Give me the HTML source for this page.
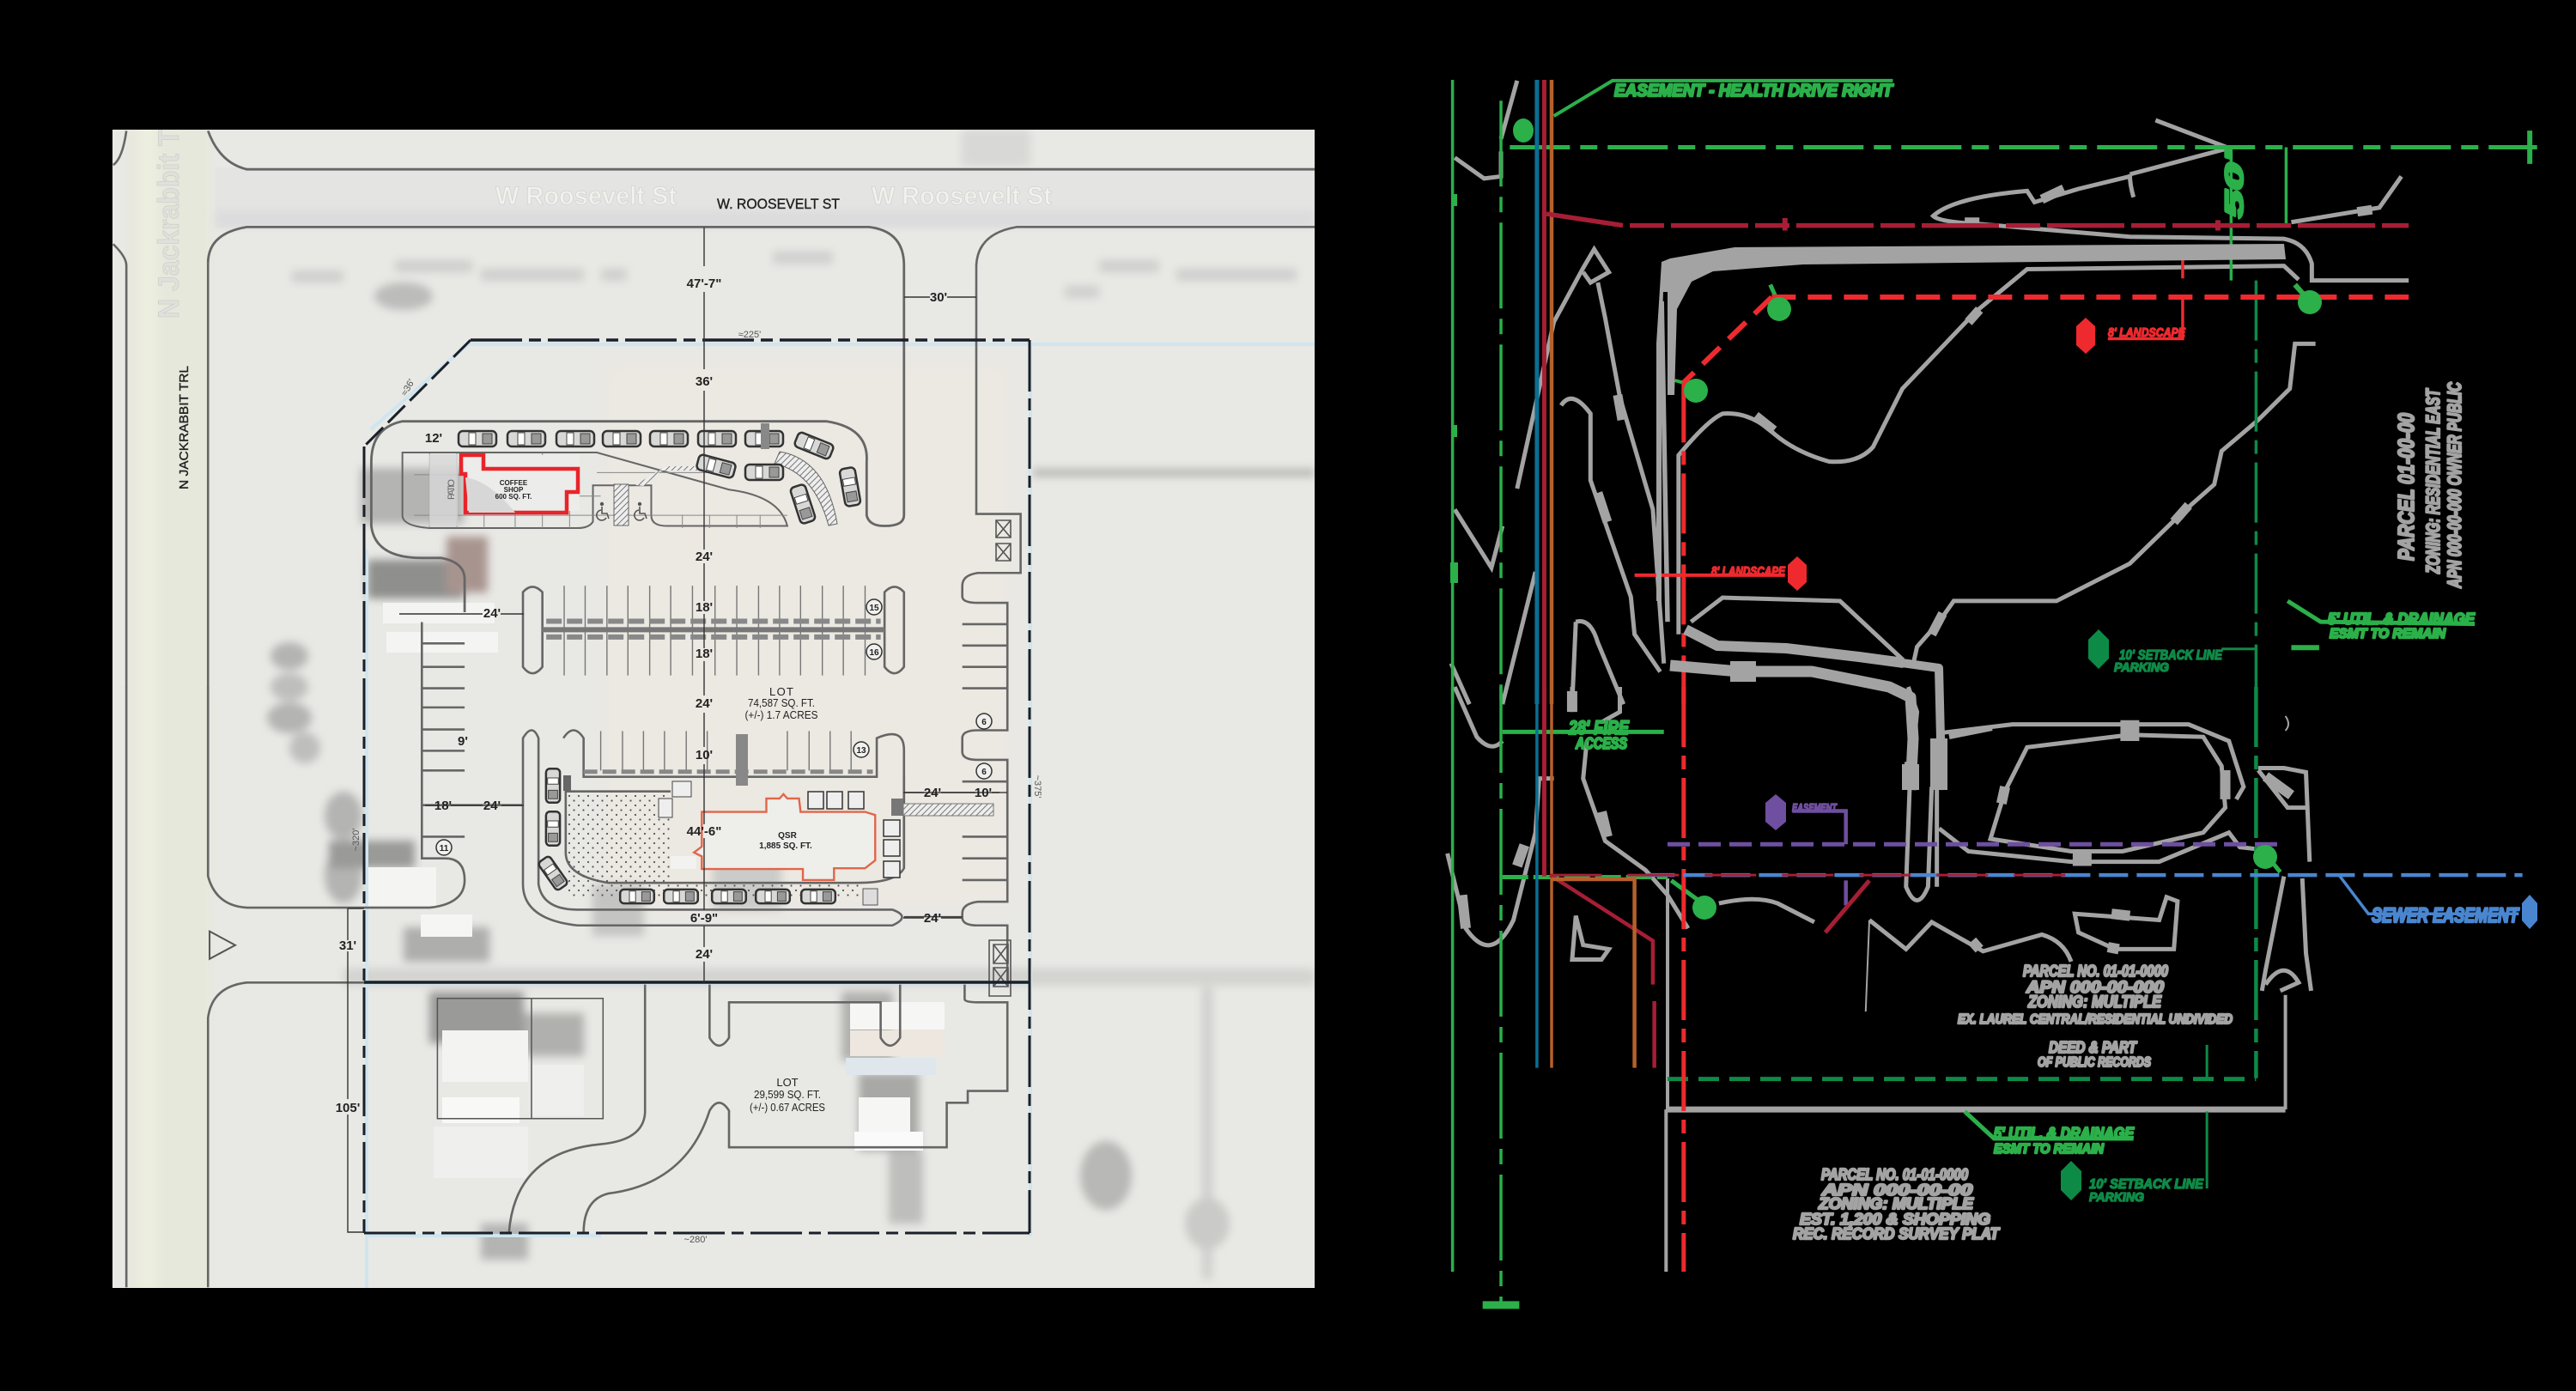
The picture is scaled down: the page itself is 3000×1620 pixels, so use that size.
<!DOCTYPE html>
<html><head><meta charset="utf-8"><style>
html,body{margin:0;padding:0;background:#000}
svg{display:block}
path,line,rect,polyline,polygon,circle,ellipse{vector-effect:non-scaling-stroke}
text{font-family:"Liberation Sans",sans-serif}
.d{font-size:15px;font-weight:bold;fill:#222;text-anchor:middle}
.s{font-size:11px;fill:#555;text-anchor:middle}
.g{font-size:13px;fill:#222;text-anchor:middle}
.ghost{font-weight:bold;fill:#f1f1ee;stroke:#d2d2d0;stroke-width:.8}
.b{font-weight:bold;font-style:italic;stroke-width:2.4;stroke-linejoin:round}
.m{stroke-width:1.5}
.gy{fill:#a3a3a3;stroke:#a3a3a3}
.gn{fill:#2bb04a;stroke:#2bb04a}
.dg{fill:#0e8a47;stroke:#0e8a47}
.rd{fill:#ee2a2e;stroke:#ee2a2e}
.cv path,.cv line,.cv rect,.cv polyline{fill:none}
</style></head><body>
<svg xmlns="http://www.w3.org/2000/svg" width="3000" height="1620" viewBox="0 0 3000 1620">
<defs>
<clipPath id="panel"><rect x="131" y="151" width="1400" height="1349"/></clipPath>
<filter id="bl" x="-30%" y="-30%" width="160%" height="160%"><feGaussianBlur stdDeviation="5"/></filter>
<filter id="bl2" x="-30%" y="-30%" width="160%" height="160%"><feGaussianBlur stdDeviation="12"/></filter>
<pattern id="dots" width="11" height="11" patternUnits="userSpaceOnUse"><circle cx="3" cy="3" r="1.1" fill="#555"/><circle cx="8.5" cy="8.5" r="1.1" fill="#555"/></pattern>
<pattern id="hat" width="5" height="5" patternUnits="userSpaceOnUse" patternTransform="rotate(45)"><rect width="5" height="5" fill="#eee"/><line x1="0" y1="0" x2="0" y2="5" stroke="#777" stroke-width="2"/></pattern>
<g id="car"><rect x="-22" y="-9" width="44" height="18" rx="5" fill="#d8d8d6" stroke="#333" stroke-width="2.5"/><rect x="-10" y="-7" width="8" height="14" fill="#fff" stroke="#444"/><rect x="6" y="-6" width="11" height="12" fill="#999" stroke="#444"/></g>
<g id="ada"><circle cx="0" cy="-9" r="2.2" fill="#555"/><path d="M0 -6V2H6L8 8M-1 -2A6 6 0 1 0 5 7" fill="none" stroke="#555" stroke-width="1.6"/></g>
</defs>
<rect width="3000" height="1620" fill="#000"/>

<!-- AERIAL -->
<g clip-path="url(#panel)">
<rect x="131" y="151" width="1400" height="1349" fill="#e8e8e5"/>
<rect x="250" y="195" width="1281" height="70" fill="#e4e4e3"/>
<rect x="250" y="245" width="1281" height="20" fill="#dcdcdc" filter="url(#bl)"/>
<rect x="150" y="140" width="95" height="1370" fill="#e7e8dc" filter="url(#bl)"/>
<rect x="160" y="140" width="24" height="1370" fill="#eceee0" filter="url(#bl)"/>
<rect x="700" y="420" width="480" height="640" fill="#ece8e2" filter="url(#bl2)"/>
<g filter="url(#bl)">
<rect x="1120" y="151" width="80" height="42" fill="#d8d8d6"/>
<rect x="1203" y="546" width="328" height="9" fill="#b5b5b3"/>
<rect x="400" y="1128" width="1131" height="20" fill="#d3d3d0"/>
<rect x="1400" y="1150" width="12" height="340" fill="#cfcfcc"/>
<ellipse cx="1288" cy="1369" rx="30" ry="40" fill="#b8b8b6"/>
<ellipse cx="1406" cy="1425" rx="26" ry="30" fill="#cacac8"/>
<ellipse cx="470" cy="345" rx="34" ry="16" fill="#bcbcba"/>
<ellipse cx="337" cy="764" rx="22" ry="16" fill="#b4b4b2"/>
<ellipse cx="337" cy="800" rx="22" ry="16" fill="#bebebc"/>
<ellipse cx="337" cy="836" rx="26" ry="18" fill="#b4b4b2"/>
<ellipse cx="355" cy="871" rx="18" ry="18" fill="#bebebc"/>
<ellipse cx="400" cy="950" rx="22" ry="28" fill="#b4b4b2"/>
<ellipse cx="400" cy="1020" rx="22" ry="32" fill="#b4b4b2"/>
<rect x="420" y="545" width="120" height="65" fill="#b4b4b2"/>
<rect x="428" y="652" width="112" height="45" fill="#8f8f8d"/>
<rect x="520" y="625" width="48" height="65" fill="#a8948f"/>
<rect x="383" y="979" width="100" height="32" fill="#9a9a98"/>
<rect x="500" y="1155" width="110" height="60" fill="#9a9a98"/>
<rect x="610" y="1180" width="70" height="50" fill="#b0b0ae"/>
<rect x="470" y="1080" width="100" height="40" fill="#aeaeac"/>
<rect x="1000" y="1250" width="70" height="90" fill="#a8a8a6"/>
<rect x="980" y="1155" width="60" height="80" fill="#b0b0ae"/>
<rect x="1035" y="1340" width="40" height="85" fill="#bebebc"/>
<rect x="560" y="1425" width="55" height="42" fill="#b4b4b2"/>
<rect x="830" y="1000" width="80" height="60" fill="#cbcbc9"/>
<rect x="690" y="1030" width="60" height="60" fill="#c4c4c2"/>
<path d="M340 322h60M460 310h90M560 320h120M700 320h30M900 300h70M1240 340h40M1280 310h70M1370 320h140" stroke="#cfcfcd" stroke-width="14" fill="none"/>
</g>
<g>
<rect x="446" y="702" width="130" height="24" fill="#f4f4f2"/>
<rect x="450" y="736" width="130" height="24" fill="#f4f4f2"/>
<rect x="428" y="1010" width="80" height="45" fill="#f4f4f2"/>
<rect x="515" y="1200" width="100" height="60" fill="#f3f3f1"/>
<rect x="515" y="1278" width="90" height="30" fill="#f8f8f6"/>
<rect x="505" y="1312" width="110" height="60" fill="#efefed"/>
<rect x="620" y="1240" width="60" height="60" fill="#efefed"/>
<rect x="990" y="1167" width="110" height="32" fill="#f6f6f4"/>
<rect x="990" y="1200" width="110" height="30" fill="#eee7df"/>
<rect x="985" y="1232" width="105" height="20" fill="#dfe6ec"/>
<rect x="1000" y="1278" width="60" height="40" fill="#f6f6f4"/>
<rect x="995" y="1318" width="80" height="22" fill="#fafafa"/>
<rect x="490" y="1065" width="60" height="26" fill="#f5f5f3"/>
</g>
<text class="ghost" x="577" y="238" font-size="30" textLength="211" lengthAdjust="spacingAndGlyphs">W Roosevelt St</text>
<text class="ghost" x="1015" y="238" font-size="30" textLength="210" lengthAdjust="spacingAndGlyphs">W Roosevelt St</text>
<text transform="translate(208,371) rotate(-90)" font-size="34" font-weight="bold" fill="#e0e0dc" stroke="#cfcfc9" stroke-width=".8" textLength="240" lengthAdjust="spacingAndGlyphs">N Jackrabbit Trl</text>
</g>

<!-- light blue site lines -->
<g fill="none" stroke="#cfe5ef" stroke-width="4">
<path d="M545 401H1531"/><path d="M432 500L545 401"/><path d="M427 640V1500"/><path d="M1200 401V1440"/><path d="M427 1145H1200"/><path d="M427 1439H700"/>
</g>

<!-- Curbs z1 -->
<g class="cv" transform="translate(120,140) scale(.9056,.4974)" stroke="#666" stroke-width="2.6">
<path d="M135 25Q150 100 185 115H1558" stroke-width="2.8"/>
<path d="M135 335Q135 265 185 250H985Q1030 260 1030 340V925Q1030 950 1005 950Q985 950 982 925V800Q985 720 930 705H385Q345 720 345 800V950Q350 1025 410 1025H435Q465 1035 465 1075V1152" stroke-width="2.8"/>
<path d="M1558 250H1175Q1125 265 1123 340V922H1180V1060H1125Q1105 1065 1105 1090V1115Q1105 1130 1125 1130H1163V1330"/>
<path d="M135 335V1330"/><path d="M30 25Q25 90 13 105M13 290Q30 320 30 340V1330"/>
<path d="M410 1175V1330M410 1225H465M410 1280H465M410 1330H465M1105 1180H1163M1105 1230H1163M1105 1280H1163M1105 1330H1163"/>
<path d="M540 1105Q552 1080 565 1105V1280Q552 1310 540 1280ZM1005 1105Q1018 1080 1030 1105V1280Q1018 1310 1005 1280Z"/>
<path d="M593 1090V1300M620 1090V1300M648 1090V1300M675 1090V1300M703 1090V1300M730 1090V1300M758 1090V1300M787 1090V1300M815 1090V1300M843 1090V1300M870 1090V1300M897 1090V1300M925 1090V1300M952 1090V1300M980 1090V1300" stroke-width="1.4" stroke="#777"/>
<path d="M565 1193H1005" stroke="#777" stroke-width="6"/>
<path d="M570 1173H1000M570 1210H1000" stroke="#888" stroke-width="6" stroke-dasharray="18 6"/>
<path d="M385 778H635L805 865Q870 880 880 950H725Q705 950 705 925V855H630V940Q625 955 610 955H420Q385 950 385 925Z" stroke-width="2"/>
<path d="M420 780V955M455 780V955M490 780V955M530 880V955M565 780V955M600 880V955M635 825H805M610 880H640M400 830H460M400 925H880M745 925V955M780 925V955M815 925V955M845 925V955" stroke-width="1" stroke="#888"/>
</g>
<path d="M500 529H533V613H500Z" fill="#d8d8d8" opacity=".8"/>
<path d="M540 530H675V595H540Z" fill="#ececea"/>
<path d="M740 565L775 543H808L830 548H770L750 566Z" fill="url(#hat)"/>
<path d="M908 526Q962 535 975 610L965 612Q948 550 902 540Z" fill="url(#hat)" stroke="#666"/>
<rect x="715" y="564" width="17" height="48" fill="url(#hat)" stroke="#666"/>

<!-- Cars -->
<g>
<use href="#car" x="556" y="511"/><use href="#car" x="613" y="511"/><use href="#car" x="670" y="511"/><use href="#car" x="724" y="511"/><use href="#car" x="779" y="511"/><use href="#car" x="835" y="511"/><use href="#car" x="890" y="511"/>
<use href="#car" transform="translate(948,519) rotate(22)"/>
<use href="#car" transform="translate(990,567) rotate(80)"/>
<use href="#car" transform="translate(935,587) rotate(72)"/>
<use href="#car" transform="translate(890,550)"/>
<use href="#car" transform="translate(834,543) rotate(15)"/>
<rect x="886" y="493" width="10" height="30" fill="#888"/>
</g>

<!-- Coffee -->
<path d="M537 530H563V546H673V573H660V597H542V552H537Z" fill="none" stroke="#e8242a" stroke-width="4.5"/>
<path d="M542 556Q570 560 600 597H546Z" fill="#d7d7d7"/>
<text x="598" y="565" font-size="8" font-weight="bold" text-anchor="middle" fill="#222">COFFEE</text>
<text x="598" y="573" font-size="8" font-weight="bold" text-anchor="middle" fill="#222">SHOP</text>
<text x="598" y="581" font-size="8" font-weight="bold" text-anchor="middle" fill="#222">600 SQ. FT.</text>
<text transform="translate(529,582) rotate(-90)" font-size="11" fill="#666" textLength="24">PATIO</text>
<use href="#ada" x="701" y="596"/><use href="#ada" x="745" y="596"/>

<!-- Curbs z2 -->
<g class="cv" transform="translate(120,800) scale(.9056,.4591)" stroke="#666" stroke-width="2.6">
<path d="M135 0V480Q145 555 185 560H420Q465 550 465 490Q465 435 440 435H410V0M410 300H465M465 300H540M410 52H465M410 108H465M410 162H465M410 212H465M410 380H465"/>
<path d="M135 0V480" />
<path d="M30 0V1523M135 1523V840Q140 760 185 750H695"/>
<path d="M697 755V1080Q695 1150 640 1160Q530 1180 522 1385"/>
<path d="M780 755V890Q792 930 805 890V800H1000V890Q1012 930 1025 890V755"/>
<path d="M1108 755V792Q1108 800 1125 800H1163V1025H1112V1055H1085V1168H805V1075Q792 1035 780 1075Q750 1260 650 1285Q618 1300 618 1385"/>
<path d="M540 130Q552 90 560 130V500Q565 565 610 565H1015Q1040 583 1015 605H610Q540 590 540 500ZM592 130Q605 90 618 130V228H995V130Q1030 100 1030 160V460Q1020 497 970 497H650Q595 480 595 420V265H730"/>
<path d="M1030 228V460"/>
<path d="M640 112V212M668 112V212M695 112V212M722 112V212M750 112V212M777 112V212M880 112V212M908 112V212M935 112V212M962 112V212" stroke="#777" stroke-width="1.4"/>
<path d="M618 215H990" stroke="#888" stroke-width="5" stroke-dasharray="16 6"/>
<path d="M1105 130Q1105 110 1125 110H1163V0M1105 130V165Q1105 185 1125 185H1163V545H1125Q1105 550 1105 575V585Q1105 605 1125 605H1163V745M1105 240H1163M1105 380H1163M1105 435H1163M1105 490H1163"/>
<path d="M1030 583H1105M1030 268H1163" stroke-width="1.5" stroke="#444"/>
<path d="M430 790H643V1095H430ZM551 790V1095" stroke="#555" stroke-width="1.5"/>
<path d="M137 620L170 655L137 690Z" fill="#eee" stroke="#555" stroke-width="2"/>
</g>
<rect x="1052" y="936" width="105" height="14" fill="url(#hat)" stroke="#777"/>
<rect x="1038" y="930" width="14" height="20" fill="#777"/>
<rect x="857" y="855" width="14" height="60" fill="#888"/>
<rect x="660" y="922" width="122" height="107" fill="url(#dots)"/>
<rect x="660" y="1028" width="340" height="16" fill="url(#dots)"/>
<rect x="781" y="997" width="30" height="15" fill="#f2f2f0"/>
<rect x="783" y="910" width="22" height="18" fill="#eee" stroke="#444"/>
<rect x="767" y="930" width="16" height="22" fill="#eee" stroke="#444"/>
<rect x="656" y="903" width="9" height="18" fill="#666"/>
<rect x="639" y="950" width="14" height="22" fill="#444"/>

<!-- QSR -->
<g transform="translate(120,800) scale(.9056,.4591)"><path d="M770 317H853V283H870L875 272L880 283H895L897 317H980L993 325V440L980 460H940V490H900V462H770V430L760 420L770 405Z" fill="#eeeeeb" stroke="#e0664a" stroke-width="2.4"/></g>
<g fill="#eee" stroke="#333" stroke-width="1.5">
<rect x="941" y="922" width="18" height="20"/><rect x="963" y="922" width="18" height="20"/><rect x="988" y="922" width="18" height="20"/>
<rect x="1029" y="955" width="19" height="19"/><rect x="1029" y="978" width="19" height="19"/><rect x="1029" y="1003" width="19" height="19"/>
</g>
<use href="#car" transform="translate(742,1044) scale(.9)"/><use href="#car" transform="translate(793,1044) scale(.9)"/><use href="#car" transform="translate(849,1044) scale(.9)"/><use href="#car" transform="translate(900,1044) scale(.9)"/><use href="#car" transform="translate(953,1044) scale(.9)"/>
<use href="#car" transform="translate(644,1017) rotate(55) scale(.9)"/>
<use href="#car" transform="translate(644,915) rotate(90) scale(.9)"/>
<use href="#car" transform="translate(644,965) rotate(90) scale(.9)"/>
<rect x="1005" y="1035" width="17" height="19" fill="#ddd" stroke="#555"/>

<!-- Trash enclosures -->
<g fill="none" stroke="#555" stroke-width="1.6">
<rect x="1160" y="606" width="17" height="20"/><path d="M1160 606l17 20M1177 606l-17 20"/>
<rect x="1160" y="633" width="17" height="20"/><path d="M1160 633l17 20M1177 633l-17 20"/>
<rect x="1152" y="1095" width="25" height="65"/>
<rect x="1157" y="1100" width="17" height="22"/><path d="M1157 1100l17 22M1174 1100l-17 22"/>
<rect x="1157" y="1127" width="17" height="22"/><path d="M1157 1127l17 22M1174 1127l-17 22"/>
</g>

<!-- Boundary -->
<g fill="none" stroke="#1a1f28">
<path d="M548 396H1199" stroke-width="3.5" stroke-dasharray="60 8 14 8"/>
<path d="M548 396L424 520" stroke-width="3" stroke-dasharray="28 8"/>
<path d="M424 520V1436" stroke-width="3" stroke-dasharray="60 8 14 8"/>
<path d="M1199 396V1436" stroke-width="3" stroke-dasharray="60 8 14 8"/>
<path d="M424 1144H1199" stroke-width="3.5"/>
<path d="M424 1436H1199" stroke-width="3" stroke-dasharray="60 8 14 8"/>
<path d="M820 265V310M820 340V430M820 455V640M820 656V700M820 715V755M820 770V810M820 830V870M820 890V960M820 976V1060M820 1078V1103M820 1120V1144" stroke="#333" stroke-width="1.4"/>
<path d="M405 1058V1095M405 1108V1280M405 1298V1435H424M405 1058H424M1053 346H1083M1103 346H1137M465 715H562M583 715H610M495 938H510M525 938H562M584 938H610M1052 923H1076M1096 923H1136M1155 923H1164M1052 1069H1076M1096 1069H1120" stroke="#333" stroke-width="1.4"/>
</g>

<!-- Left labels -->
<g>
<text x="835" y="243" font-size="17" fill="#222" stroke="#222" stroke-width=".4" textLength="143" lengthAdjust="spacingAndGlyphs">W. ROOSEVELT ST</text>
<text transform="translate(219,570) rotate(-90)" font-size="15" fill="#222" stroke="#222" stroke-width=".4" textLength="144" lengthAdjust="spacingAndGlyphs">N JACKRABBIT TRL</text>
<text class="d" x="820" y="335">47'-7"</text><text class="d" x="1093" y="351">30'</text>
<text class="s" x="873" y="393">≈225'</text><text class="d" x="820" y="449">36'</text>
<text class="d" x="505" y="515">12'</text><text class="d" x="820" y="653">24'</text>
<text class="d" x="820" y="712">18'</text><text class="d" x="820" y="766">18'</text>
<text class="d" x="573" y="719">24'</text><text class="d" x="820" y="824">24'</text>
<text class="s" transform="translate(478,453) rotate(-60)">≈36'</text>
<text class="g" x="910" y="810" textLength="28">LOT</text>
<text class="g" x="910" y="823" textLength="78" lengthAdjust="spacingAndGlyphs">74,587 SQ. FT.</text>
<text class="g" x="910" y="837" textLength="85" lengthAdjust="spacingAndGlyphs">(+/-) 1.7 ACRES</text>
<text class="d" x="820" y="884">10'</text><text class="d" x="1086" y="928">24'</text><text class="d" x="1145" y="928">10'</text>
<text class="d" x="516" y="943">18'</text><text class="d" x="573" y="943">24'</text><text class="d" x="539" y="868">9'</text>
<text class="d" x="820" y="973">44'-6"</text>
<text x="917" y="976" font-size="10" font-weight="bold" text-anchor="middle" fill="#222">QSR</text>
<text x="915" y="988" font-size="10" font-weight="bold" text-anchor="middle" fill="#222">1,885 SQ. FT.</text>
<text class="d" x="820" y="1074">6'-9"</text><text class="d" x="1086" y="1074">24'</text><text class="d" x="820" y="1116">24'</text>
<text class="d" x="405" y="1106">31'</text><text class="d" x="405" y="1295">105'</text>
<text class="g" x="917" y="1265">LOT</text><text class="g" x="917" y="1279" textLength="78" lengthAdjust="spacingAndGlyphs">29,599 SQ. FT.</text><text class="g" x="917" y="1294" textLength="88" lengthAdjust="spacingAndGlyphs">(+/-) 0.67 ACRES</text>
<text class="s" x="810" y="1447">~280'</text>
<text class="s" transform="translate(1205,916) rotate(90)">~375'</text>
<text class="s" transform="translate(418,978) rotate(-90)">~320'</text>
<g fill="#f0f0ee" stroke="#333" stroke-width="1.5">
<circle cx="1018" cy="707" r="9"/><circle cx="1018" cy="759" r="9"/><circle cx="1146" cy="840" r="9"/><circle cx="1146" cy="898" r="9"/><circle cx="1003" cy="873" r="9"/><circle cx="517" cy="987" r="9"/>
</g>
<g font-size="10" font-weight="bold" text-anchor="middle" fill="#222">
<text x="1018" y="711">15</text><text x="1018" y="763">16</text><text x="1146" y="844">6</text><text x="1146" y="902">6</text><text x="1003" y="877">13</text><text x="517" y="991">11</text></g>
</g>

<!-- RIGHT PANEL z3 -->
<g class="cv" transform="translate(1660,60) scale(.8546,.4848)">
<g stroke="#a3a3a3" stroke-width="5">
<path d="M995 165L1095 232L960 295M960 295Q960 320 965 350M960 300L890 330L830 362L820 335Q720 350 692 395Q700 410 760 415L960 445L1170 450Q1200 460 1208 510V550H1340"/>
<path d="M1180 410L1300 375L1330 300"/>
<path d="M1190 548L1170 515L820 523L750 625L650 810L610 950Q590 990 550 985Q500 960 470 910Q440 865 405 870Q385 885 345 970V1400"/>
<path d="M1213 702H1185L1178 810L1135 885L1085 960L1075 1040L1030 1110L960 1230L860 1320H720L700 1370L670 1430L665 1470"/>
<path d="M362 1370L405 1312L565 1320L650 1460"/>
<path d="M125 1050L175 650L215 520L230 475L250 530L225 555L215 530M235 555L245 640L265 830L310 1100L318 1300L325 1470"/>
<path d="M185 850Q200 810 225 870L225 1030L280 1310L285 1400L320 1490"/>
<path d="M40 1100L90 1240L105 1140"/>
<path d="M40 255L80 305L103 300V240M103 210L125 70"/>
<path d="M105 1568L150 1250"/><path d="M205 1370Q225 1360 235 1420L270 1568M205 1370L200 1568"/>
<path d="M35 1470L60 1568"/>
<path d="M322 600L330 1370" stroke-width="5.5"/>
</g>
<g stroke="#a3a3a3" stroke-width="11">
<path d="M262 825L268 885M235 1060L248 1130M755 620L740 650M450 875L475 910M1040 1090L1020 1130M705 1350L690 1400M735 410H755M870 330L840 355M1290 380L1270 385"/>
</g>
<g stroke="#2bb04a" stroke-width="3.5">
<path d="M37 68V1568"/>
<path d="M115 230H1515" stroke-width="5" stroke-dasharray="70 12 20 12"/>
<path d="M103 118V1568" stroke-dasharray="100 12 18 12"/>
<path d="M1173 230V420M1098 232V550"/>
<path d="M175 155L255 70H637" stroke-width="4"/>
<path d="M1505 190V270" stroke-width="6"/>
<path d="M1175 1320L1220 1370L1430 1375" stroke-width="5"/>
<path d="M1185 560L1205 600" stroke-width="6"/>
<path d="M470 560L480 600" stroke-width="5"/>
<path d="M340 790L360 800" stroke-width="4"/>
<path d="M1180 1432H1218" stroke-width="6"/>
</g>
<path d="M1132 550V1568" stroke="#0e8a47" stroke-width="3.5" stroke-dasharray="70 10 16 10"/>
<path d="M1085 1435H1132" stroke="#0e8a47" stroke-width="3"/>
<path d="M152 68V1568" stroke="#0a6f94" stroke-width="5"/>
<path d="M162 68V1568" stroke="#a61e35" stroke-width="5"/>
<path d="M172 68V1568" stroke="#b4612a" stroke-width="4.5"/>
<path d="M165 390L270 418H1340" stroke="#a61e35" stroke-width="5.5" stroke-dasharray="90 8 40 8"/>
<path d="M490 400V430M1080 405V430" stroke="#a61e35" stroke-width="6"/>
<path d="M472 590H1340" stroke="#ee2a2e" stroke-width="6" stroke-dasharray="28 14"/>
<path d="M472 590L352 795" stroke="#ee2a2e" stroke-width="6" stroke-dasharray="28 14"/>
<path d="M352 795V1568" stroke="#ee2a2e" stroke-width="5" stroke-dasharray="70 10 16 10"/>
<path d="M285 1258H490" stroke="#ee2a2e" stroke-width="4"/>
<path d="M1032 470V545M1032 590V690H930" stroke="#ee2a2e" stroke-width="3.5"/>
</g>
<!-- heavy road bands, real px -->
<g fill="#a3a3a3"><path d="M1935 305L1945 301L2020 288L2660 284L2662 302L2100 308L1995 316L1970 328L1953 360L1950 460L1942 460L1942 340L1937 340L1935 400L1929 480V400Z"/></g>
<g fill="none" stroke="#a3a3a3" stroke-linejoin="round">
<path d="M1963 733L2000 752L2080 755L2165 765L2217 772" stroke-width="12"/>
<path d="M1945 775L2025 782L2110 782L2200 800L2225 812L2228 860L2225 920" stroke-width="13"/>
<path d="M2015 782H2045" stroke-width="24"/>
<path d="M2215 772L2258 778L2260 860L2258 920" stroke-width="10"/>
<path d="M2258 860V920" stroke-width="20"/>
<path d="M2225 890V920" stroke-width="20"/>
<path d="M2270 858L2320 848" stroke-width="6"/>
<path d="M1932 400V700" stroke-width="6"/>
<path d="M1947 360V430" stroke-width="6"/>
</g>

<!-- z4 -->
<g class="cv" transform="translate(1660,800) scale(.8546,.4848)">
<g stroke="#a3a3a3" stroke-width="5">
<path d="M40 0L70 120Q90 160 105 130M200 0V60M265 0V60L240 85"/>
<path d="M220 130L215 220L245 370L300 440L330 500L358 580"/>
<path d="M30 400L55 580Q90 670 120 560L150 350L155 220H175"/>
<path d="M658 0L670 60L660 240L655 480Q670 545 685 480L690 240"/>
<path d="M698 0L700 120L697 240V480"/>
<path d="M705 110L800 90H1040L1095 130L1115 240L1105 270"/>
<path d="M770 365L790 250L820 145L960 115L1060 120L1085 190L1090 290L1060 350L950 395H880L770 365Z"/>
<path d="M700 340L740 395L880 420H1000L1095 350L1110 385L1135 390"/>
<path d="M1135 195H1170L1200 205L1205 420M1135 200L1175 290H1200"/>
<path d="M1170 455L1145 680L1140 730M1195 460L1200 640L1207 730M1145 715Q1170 650 1190 710L1165 730"/>
<path d="M400 520Q450 500 480 520L530 565"/>
<path d="M605 560L655 630L690 565L760 635L840 595Q870 610 880 660"/>
<path d="M885 545L1000 560L1010 505L1025 515L1020 630H940L890 590Z"/>
<path d="M205 550L215 620L250 630L240 655H200Z"/>
<path d="M1172 740V1015M330 460V1015M328 1015V1405" stroke-width="4"/>
<path d="M330 1015H1172" stroke-width="7"/>
<path d="M605 560L600 780" stroke-width="2"/>
<path d="M1172 70Q1180 90 1172 105" stroke-width="2"/>
</g>
<g stroke="#a3a3a3" stroke-width="12">
<path d="M240 300L248 360M660 180V240M700 180V240M790 240L785 280M50 500L55 580M135 380L125 430M1090 200V270M1145 215L1180 260M745 610L755 630M935 545L960 550M930 625L945 630M200 10V60"/>
<path d="M960 80V130M895 400V430" stroke-width="22"/>
</g>
<g stroke="#2bb04a" stroke-width="3.5">
<path d="M37 0V1405"/><path d="M103 0V1480" stroke-dasharray="100 12 18 12"/>
<path d="M105 108H325" stroke-width="5"/>
<path d="M105 457H330" stroke-width="5" stroke-dasharray="30 6"/>
<path d="M78 1485H128" stroke-width="9"/>
<path d="M335 465L370 510" stroke-width="5"/>
<path d="M735 1020L775 1085H965" stroke-width="5"/>
<path d="M1135 380L1165 445" stroke-width="5"/>
</g>
<path d="M1132 0V940" stroke="#0e8a47" stroke-width="4.5" stroke-dasharray="70 10 16 10"/>
<path d="M330 942H1132" stroke="#0e8a47" stroke-width="5" stroke-dasharray="24 12"/>
<path d="M1065 860V940M1065 1020V1205" stroke="#0e8a47" stroke-width="3"/>
<path d="M152 0V915" stroke="#0a6f94" stroke-width="3.5"/>
<path d="M162 0V455" stroke="#a61e35" stroke-width="5"/>
<path d="M172 0V915" stroke="#b4612a" stroke-width="3.5"/>
<path d="M352 0V1405" stroke="#ee2a2e" stroke-width="5" stroke-dasharray="70 10 16 10"/>
<path d="M330 378H1172" stroke="#6f4fa0" stroke-width="5" stroke-dasharray="26 10"/>
<path d="M500 298H573V378M573 465V525" stroke="#6f4fa0" stroke-width="4.5"/>
<path d="M300 452H1495" stroke="#4a86d0" stroke-width="4.5" stroke-dasharray="34 10"/>
<path d="M1245 452L1285 545H1490" stroke="#4a86d0" stroke-width="3.5"/>
<path d="M170 452H900" stroke="#a61e35" stroke-width="3" stroke-dasharray="60 30"/>
<path d="M170 452L310 610V715M312 755V915" stroke="#a61e35" stroke-width="4.5"/>
<path d="M605 465L545 590" stroke="#a61e35" stroke-width="5"/>
<path d="M172 462H285V915" stroke="#b4612a" stroke-width="4.5"/>
</g>

<!-- markers -->
<g fill="#2bb04a">
<ellipse cx="1774" cy="152" rx="12" ry="14"/>
<circle cx="2072" cy="360" r="14"/>
<circle cx="1975" cy="455" r="14"/>
<circle cx="2690" cy="352" r="14"/>
<circle cx="1985" cy="1057" r="14"/>
<circle cx="2638" cy="998" r="14"/>
</g>
<polygon points="2429,370 2440,380 2440,402 2429,412 2418,402 2418,380" fill="#ee2a2e"/>
<polygon points="2093,648 2104,658 2104,678 2093,688 2082,678 2082,658" fill="#ee2a2e"/>
<polygon points="2444,733 2456,745 2456,767 2444,779 2432,767 2432,745" fill="#0e8a47"/>
<polygon points="2068,925 2080,935 2080,957 2068,967 2056,957 2056,935" fill="#6f4fa0"/>
<polygon points="2946,1042 2955,1052 2955,1072 2946,1082 2937,1072 2937,1052" fill="#4a86d0"/>
<polygon points="2412,1352 2424,1364 2424,1386 2412,1398 2400,1386 2400,1364" fill="#0e8a47"/>
<rect x="1692" y="226" width="5" height="14" fill="#2bb04a"/><rect x="1692" y="495" width="5" height="14" fill="#2bb04a"/><rect x="1689" y="655" width="9" height="24" fill="#2bb04a"/>

<!-- right labels -->
<text class="b gn" x="1880" y="112" font-size="20" textLength="324" lengthAdjust="spacingAndGlyphs">EASEMENT - HEALTH DRIVE RIGHT</text>
<text class="b gn" transform="translate(2612,254) rotate(-90)" font-size="30" textLength="78" lengthAdjust="spacingAndGlyphs">50'</text>
<text class="b m rd" x="2455" y="392" font-size="15" textLength="90" lengthAdjust="spacingAndGlyphs">8' LANDSCAPE</text>
<text class="b m rd" x="1993" y="670" font-size="15" textLength="86" lengthAdjust="spacingAndGlyphs">8' LANDSCAPE</text>
<text class="b m dg" x="2468" y="768" font-size="16" textLength="120" lengthAdjust="spacingAndGlyphs">10' SETBACK LINE</text>
<text class="b m dg" x="2462" y="782" font-size="15" textLength="64" lengthAdjust="spacingAndGlyphs">PARKING</text>
<text class="b gn" x="2711" y="727" font-size="18" textLength="171" lengthAdjust="spacingAndGlyphs">5' UTIL. &amp; DRAINAGE</text>
<text class="b gn" x="2713" y="743" font-size="16" textLength="135" lengthAdjust="spacingAndGlyphs">ESMT TO REMAIN</text>
<text class="b gn" x="1827" y="855" font-size="22" textLength="70" lengthAdjust="spacingAndGlyphs">28' FIRE</text>
<text class="b gn" x="1835" y="872" font-size="18" textLength="60" lengthAdjust="spacingAndGlyphs">ACCESS</text>
<text class="b m" fill="#6f4fa0" stroke="#6f4fa0" x="2087" y="945" font-size="13" textLength="52" lengthAdjust="spacingAndGlyphs">EASEMENT</text>
<text class="b" fill="#4a86d0" stroke="#4a86d0" x="2762" y="1074" font-size="24" textLength="171" lengthAdjust="spacingAndGlyphs">SEWER EASEMENT</text>
<text class="b gn" x="2322" y="1326" font-size="18" textLength="163" lengthAdjust="spacingAndGlyphs">5' UTIL. &amp; DRAINAGE</text>
<text class="b gn" x="2322" y="1343" font-size="16" textLength="128" lengthAdjust="spacingAndGlyphs">ESMT TO REMAIN</text>
<text class="b m dg" x="2433" y="1384" font-size="16" textLength="133" lengthAdjust="spacingAndGlyphs">10' SETBACK LINE</text>
<text class="b m dg" x="2433" y="1399" font-size="15" textLength="64" lengthAdjust="spacingAndGlyphs">PARKING</text>

<g class="b gy">
<text x="2356" y="1137" font-size="18" textLength="169" lengthAdjust="spacingAndGlyphs">PARCEL NO. 01-01-0000</text>
<text x="2360" y="1156" font-size="19" textLength="160" lengthAdjust="spacingAndGlyphs">APN 000-00-000</text>
<text x="2362" y="1173" font-size="19" textLength="155" lengthAdjust="spacingAndGlyphs">ZONING: MULTIPLE</text>
<text x="2280" y="1192" font-size="16" textLength="320" lengthAdjust="spacingAndGlyphs">EX. LAUREL CENTRAL/RESIDENTIAL UNDIVIDED</text>
<text x="2386" y="1226" font-size="18" textLength="102" lengthAdjust="spacingAndGlyphs">DEED &amp; PART</text>
<text x="2373" y="1242" font-size="16" textLength="132" lengthAdjust="spacingAndGlyphs">OF PUBLIC RECORDS</text>
<text x="2121" y="1374" font-size="18" textLength="171" lengthAdjust="spacingAndGlyphs">PARCEL NO. 01-01-0000</text>
<text x="2122" y="1392" font-size="18" textLength="175" lengthAdjust="spacingAndGlyphs">APN 000-00-00</text>
<text x="2118" y="1408" font-size="18" textLength="180" lengthAdjust="spacingAndGlyphs">ZONING: MULTIPLE</text>
<text x="2096" y="1426" font-size="18" textLength="222" lengthAdjust="spacingAndGlyphs">EST. 1,200 &amp; SHOPPING</text>
<text x="2088" y="1443" font-size="18" textLength="240" lengthAdjust="spacingAndGlyphs">REC. RECORD SURVEY PLAT</text>
<text transform="translate(2866,685) rotate(-90)" font-size="22" textLength="240" lengthAdjust="spacingAndGlyphs">APN 000-00-000 OWNER PUBLIC</text>
<text transform="translate(2841,668) rotate(-90)" font-size="22" textLength="215" lengthAdjust="spacingAndGlyphs">ZONING: RESIDENTIAL EAST</text>
<text transform="translate(2811,653) rotate(-90)" font-size="26" textLength="172" lengthAdjust="spacingAndGlyphs">PARCEL 01-00-00</text>
</g>
</svg>
</body></html>
